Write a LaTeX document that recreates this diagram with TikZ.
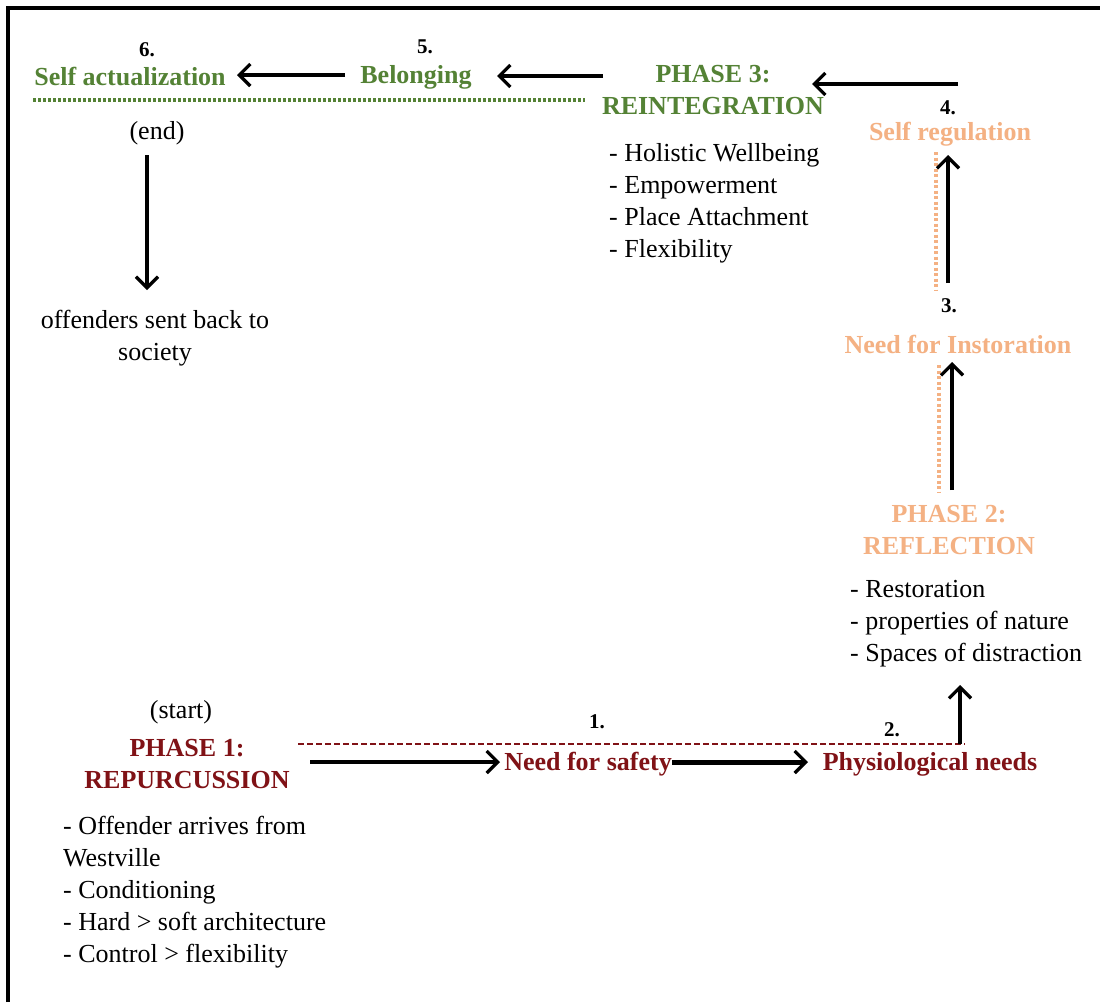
\documentclass[tikz,border=0pt]{standalone}
\usepackage{fontspec}
\setmainfont{Liberation Serif}
\usetikzlibrary{arrows.meta}
\definecolor{phaseRed}{RGB}{128,18,22}
\definecolor{phaseGreen}{RGB}{84,130,53}
\definecolor{phaseOrange}{RGB}{244,177,131}

\begin{document}
\begin{tikzpicture}[x=1pt,y=-1pt,
  every node/.style={inner sep=0pt, font=\fontsize{26}{32}\selectfont},
  head/.style={font=\fontsize{26}{32}\selectfont\bfseries, align=center},
  num/.style={font=\fontsize{21}{26}\selectfont\bfseries},
  item/.style={align=left, anchor=north west},
  flow/.style={line width=3.3pt, -{Straight Barb[length=11pt,width=22pt]}},
  flowthick/.style={line width=5pt, -{Straight Barb[length=11pt,width=22pt,line width=3.3pt]}},
  greenline/.style={phaseGreen, line width=4pt, dash pattern=on 3pt off 2pt},
  orangeline/.style={phaseOrange, line width=3.5pt, dash pattern=on 3pt off 2.5pt},
  redline/.style={phaseRed, line width=1.8pt, dash pattern=on 6pt off 3pt},
]
\useasboundingbox (0,0) rectangle (1100,1002);
\fill[white] (0,0) rectangle (1100,1002);

% frame (left and top edges)
\draw[line width=4pt] (8,1002) -- (8,8) -- (1100,8);

% ---- phase 3: reintegration (top row) ----
\node[num] (n6) at (147,50) {6.};
\node[head, text=phaseGreen] (selfact) at (130,77) {Self actualization};
\node[num] (n5) at (425,47) {5.};
\node[head, text=phaseGreen] (belong) at (416,77) {Belonging};
\node[head, text=phaseGreen] (phase3) at (713,90) {PHASE 3:\\REINTEGRATION};
\node[item] (list3) at (609,143) {- Holistic Wellbeing\\- Empowerment\\- Place Attachment\\- Flexibility};
\node (endn) at (157,133) {(end)};
\node[align=center] (society) at (155,338) {offenders sent back to\\society};

% ---- phase 2: reflection (right column) ----
\node[num] (n4) at (948,108) {4.};
\node[head, text=phaseOrange] (selfreg) at (950,134) {Self regulation};
\node[num] (n3) at (949,306) {3.};
\node[head, text=phaseOrange] (instor) at (958,344) {Need for Instoration};
\node[head, text=phaseOrange] (phase2) at (949,530) {PHASE 2:\\REFLECTION};
\node[item] (list2) at (850,580) {- Restoration\\- properties of nature\\- Spaces of distraction};

% ---- phase 1: repurcussion (bottom row) ----
\node (start) at (181,712) {(start)};
\node[head, text=phaseRed] (phase1) at (187,764) {PHASE 1:\\REPURCUSSION};
\node[item] (list1) at (63,816) {- Offender arrives from\\Westville\\- Conditioning\\- Hard > soft architecture\\- Control > flexibility};
\node[num] (n1) at (597,722) {1.};
\node[head, text=phaseRed] (safety) at (588,764) {Need for safety};
\node[num] (n2) at (892,730) {2.};
\node[head, text=phaseRed] (physio) at (930,764) {Physiological needs};

% phase separators
\draw[greenline] (33,100) -- (585,100);
\draw[orangeline] (936,152) -- (936,290);
\draw[orangeline] (939,365) -- (939,493);
\draw[redline] (298,744) -- (965,744);

% arrow end points
\coordinate (a1s) at (310,762);  \coordinate (a1e) at (500,762);
\coordinate (a2s) at (672,762);  \coordinate (a2e) at (808,762);
\coordinate (a3s) at (960,744);  \coordinate (a3e) at (960,685);
\coordinate (a4s) at (952,490);  \coordinate (a4e) at (952,362);
\coordinate (a5s) at (948,283);  \coordinate (a5e) at (948,155);
\coordinate (a6s) at (958,84);   \coordinate (a6e) at (812,84);
\coordinate (a7s) at (603,76);   \coordinate (a7e) at (497,76);
\coordinate (a8s) at (345,75);   \coordinate (a8e) at (237,75);
\coordinate (a9s) at (147,155);  \coordinate (a9e) at (147,290);

% flow arrows
\draw[flow] (a1s) -- (a1e);
\draw[flowthick] (a2s) -- (a2e);
\draw[flow] (a3s) -- (a3e);
\draw[flow] (a4s) -- (a4e);
\draw[flow] (a5s) -- (a5e);
\draw[flow] (a6s) -- (a6e);
\draw[flow] (a7s) -- (a7e);
\draw[flow] (a8s) -- (a8e);
\draw[flow] (a9s) -- (a9e);
\end{tikzpicture}
\end{document}
